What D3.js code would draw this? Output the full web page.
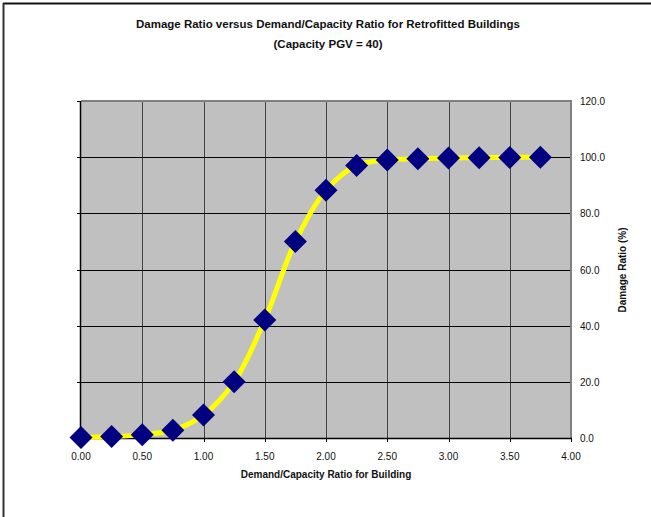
<!DOCTYPE html>
<html><head><meta charset="utf-8">
<script src="https://cdn.jsdelivr.net/npm/d3@7"></script>
<style>body{margin:0;background:#fff}svg{display:block;font-family:"Liberation Sans",Arial,sans-serif}</style>
</head><body><svg id="c" width="651" height="517"></svg>
<script>
const ratios = [0,0.25,0.5,0.75,1.0,1.25,1.5,1.75,2.0,2.25,2.5,2.75,3.0,3.25,3.5,3.75];
const damage = [0.2,0.5,1.2,2.8,8.2,20,42,70,88.2,97,99,99.4,99.7,99.8,99.9,100];
const xTicks = [0,0.5,1,1.5,2,2.5,3,3.5,4];
const yTicks = [0,20,40,60,80,100,120];
const title1 = "Damage Ratio versus Demand/Capacity Ratio for Retrofitted Buildings";
const title2 = "(Capacity PGV = 40)";
const xTitle = "Demand/Capacity Ratio for Building";
const yTitle = "Damage Ratio (%)";

const svg = d3.select("#c");
const L=81, R=571, T=101, B=438;
const x = d3.scaleLinear().domain([0,4]).range([L,R]);
const y = d3.scaleLinear().domain([0,120]).range([B,T]);

// outer frame
svg.append("line").attr("x1",3).attr("x2",651).attr("y1",3.5).attr("y2",3.5).attr("stroke","#111").attr("stroke-width",2);
svg.append("line").attr("x1",3.5).attr("x2",3.5).attr("y1",3).attr("y2",517).attr("stroke","#333").attr("stroke-width",2);

// plot bg
svg.append("rect").attr("x",L).attr("y",T).attr("width",R-L).attr("height",B-T).attr("fill","#c0c0c0");
// vertical grid
svg.append("g").selectAll("line").data(xTicks.slice(1,-1)).join("line")
  .attr("x1",d=>Math.round(x(d))+0.5).attr("x2",d=>Math.round(x(d))+0.5).attr("y1",T).attr("y2",B)
  .attr("stroke","#444").attr("stroke-width",1);
// horizontal grid
svg.append("g").selectAll("line").data(yTicks.slice(1,-1)).join("line")
  .attr("x1",L).attr("x2",R).attr("y1",d=>Math.round(y(d))+0.5).attr("y2",d=>Math.round(y(d))+0.5)
  .attr("stroke","#000").attr("stroke-width",1);
// plot border top/right gray
svg.append("path").attr("d",`M${L},${T}H${R}V${B}`).attr("fill","none").attr("stroke","#808080").attr("stroke-width",2);

// y axis line left with ticks
svg.append("line").attr("x1",L-0.5).attr("x2",L-0.5).attr("y1",T).attr("y2",B).attr("stroke","#000").attr("stroke-width",1.5);
svg.append("g").selectAll("line").data(yTicks).join("line")
  .attr("x1",L-4).attr("x2",L).attr("y1",d=>Math.round(y(d))+0.5).attr("y2",d=>Math.round(y(d))+0.5).attr("stroke","#000");
// x axis line bottom with ticks
svg.append("line").attr("x1",L-4).attr("x2",R+1).attr("y1",B+0.5).attr("y2",B+0.5).attr("stroke","#000").attr("stroke-width",1.5);
svg.append("g").selectAll("line").data(xTicks).join("line")
  .attr("x1",d=>Math.round(x(d))+0.5).attr("x2",d=>Math.round(x(d))+0.5).attr("y1",B).attr("y2",B+4).attr("stroke","#000");

// tick labels
svg.append("g").selectAll("text").data(xTicks).join("text")
  .attr("x",d=>x(d)).attr("y",B+22).attr("text-anchor","middle").attr("font-size",10).attr("fill","#111")
  .text(d=>d.toFixed(2));
svg.append("g").selectAll("text").data(yTicks).join("text")
  .attr("x",R+9).attr("y",d=>y(d)+4).attr("text-anchor","start").attr("font-size",10).attr("fill","#111")
  .text(d=>d.toFixed(1));

// line
const line = d3.line().x((d,i)=>x(ratios[i])).y(d=>y(d)).curve(d3.curveCatmullRom.alpha(0.5));
svg.append("path").datum(damage).attr("d",line).attr("fill","none").attr("stroke","#ffff00").attr("stroke-width",5).attr("stroke-linejoin","round");
// diamonds
svg.append("g").selectAll("path").data(damage).join("path")
  .attr("d",(d,i)=>{const cx=x(ratios[i]),cy=y(d),r=11.5;return `M${cx},${cy-r}L${cx+r},${cy}L${cx},${cy+r}L${cx-r},${cy}Z`;})
  .attr("fill","#000080");

// titles
svg.append("text").attr("x",328).attr("y",28).attr("text-anchor","middle").attr("font-size",11.5).attr("font-weight","bold").attr("fill","#111").text(title1);
svg.append("text").attr("x",328).attr("y",48).attr("text-anchor","middle").attr("font-size",11.5).attr("font-weight","bold").attr("fill","#111").text(title2);
svg.append("text").attr("x",326).attr("y",478).attr("text-anchor","middle").attr("font-size",10).attr("font-weight","bold").attr("fill","#111").text(xTitle);
svg.append("text").attr("transform","translate(626,270) rotate(-90)").attr("text-anchor","middle").attr("font-size",10).attr("font-weight","bold").attr("fill","#111").text(yTitle);
</script></body></html>
